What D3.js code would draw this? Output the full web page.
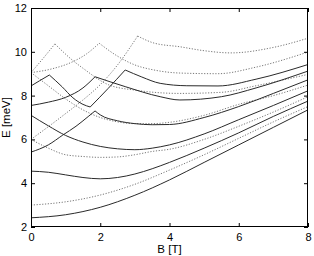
<!DOCTYPE html>
<html><head><meta charset="utf-8">
<script src="https://cdn.jsdelivr.net/npm/d3@7/dist/d3.min.js"></script>
<style>body{margin:0;background:#fff}svg{display:block}</style>
</head><body>
<svg id="c" width="314" height="256"></svg>
<script>
const xTicks = [0, 2, 4, 6, 8];
const yTicks = [2, 4, 6, 8, 10, 12];
const xLabel = "B [T]";
const yLabel = "E [meV]";

// solid levels (each array is one smooth piece; kinks split pieces)
const S1 = [[[0,2.42],[1,2.56],[2,2.9],[3,3.45],[4,4.15],[5,4.95],[6,5.75],[7,6.55],[8,7.35]]];
const S2 = [[[0,4.55],[0.5,4.5],[1,4.38],[1.5,4.26],[2,4.2],[2.5,4.26],[3,4.42],[3.5,4.66],[4,4.95],[5,5.6],[6,6.3],[7,7.05],[8,7.75]]];
const S3 = [[[0,7.1],[0.5,6.62],[1,6.18],[1.5,5.88],[2,5.68],[2.5,5.57],[3,5.53],[3.5,5.6],[4,5.75],[5,6.25],[6,6.9],[7,7.55],[8,8.22]]];
const S4 = [[[0,5.42],[0.5,5.75],[0.92,6.2],[1.3,6.6],[1.65,7.04],[1.85,7.3]],
            [[1.85,7.3],[2,7.12],[2.5,6.85],[3,6.72],[3.5,6.67],[4,6.68],[5,7.0],[6,7.5],[7,8.1],[8,8.72]]];
const S5 = [[[0,8.44],[0.25,8.68],[0.53,8.94]],
            [[0.53,8.94],[0.9,8.4],[1.21,7.9],[1.5,7.6],[1.71,7.48]],
            [[1.71,7.48],[2.23,8.33],[2.72,9.17]],
            [[2.72,9.17],[3.2,8.85],[3.73,8.56],[4.5,8.45],[5.4,8.44],[6.5,8.75],[8,9.42]]];
const S6 = [[[0,7.55],[0.5,7.7],[1,7.92],[1.5,8.35],[1.85,8.86]],
            [[1.85,8.86],[2.72,8.41],[3.73,7.95],[4.3,7.8],[5.5,7.95],[6.5,8.35],[8,9.12]]];
// dotted levels
const D1 = [[[0,3.0],[1,3.15],[2,3.46],[3,3.95],[4,4.6],[5,5.3],[6,6.05],[7,6.8],[8,7.5]]];
const D2 = [[[0,6.0],[0.5,5.6],[1,5.3],[1.5,5.22],[2,5.18],[2.5,5.2],[3,5.3],[3.5,5.45],[4,5.55],[5,6.0],[6,6.6],[7,7.25],[8,7.95]]];
const D3 = [[[0,6.0],[0.5,6.58],[1,7.18],[1.5,7.8],[2,8.5],[2.5,9.4],[3.08,10.72]],
            [[3.08,10.72],[3.55,10.4],[4.3,10.23],[5,10.05],[5.77,9.95],[7,10.2],[8,10.62]]];
const D4 = [[[0,9.05],[0.35,9.7],[0.69,10.36]],
            [[0.69,10.36],[1.21,9.6],[1.5,9.25],[2.23,8.5],[3,8.25],[4.3,8.1],[5.5,8.15],[6.5,8.45],[8,8.97]]];
const D5 = [[[0,9.05],[0.6,9.22],[1.21,9.55],[1.6,9.9],[1.97,10.39]],
            [[1.97,10.39],[2.5,9.8],[3,9.4],[3.55,9.17],[4.3,9.03],[5.4,9.0],[6.5,9.3],[8,9.99]]];
const D6 = [[[0,9.05],[0.5,8.45],[1,7.85],[1.5,7.35],[2,7.0],[2.5,6.8],[3,6.72],[3.5,6.72],[4,6.78],[5,7.1],[6,7.6],[7,8.0],[8,8.48]]];

const solidSeries = [S1, S2, S3, S4, S5, S6];
const dottedSeries = [D1, D2, D3, D4, D5, D6];

const svg = d3.select("#c");
const L = 31, R = 308, T = 8, B = 227;
const x = d3.scaleLinear().domain([0, 8]).range([L, R]);
const y = d3.scaleLinear().domain([2, 12]).range([B, T]);
const font = "'Liberation Sans', Arial, Helvetica, sans-serif";

svg.append("clipPath").attr("id", "clp").append("rect")
  .attr("x", L).attr("y", T).attr("width", R - L).attr("height", B - T);

const line = d3.line().x(d => x(d[0])).y(d => y(d[1])).curve(d3.curveMonotoneX);
const g = svg.append("g").attr("clip-path", "url(#clp)");

dottedSeries.forEach(s => s.forEach(piece => {
  g.append("path").attr("d", line(piece)).attr("fill", "none")
   .attr("stroke", "#777").attr("stroke-width", 1).attr("stroke-dasharray", "1.2,1.6");
}));
solidSeries.forEach(s => s.forEach(piece => {
  g.append("path").attr("d", line(piece)).attr("fill", "none")
   .attr("stroke", "#2a2a2a").attr("stroke-width", 1);
}));

function styleAxis(sel, labels) {
  sel.select(".domain").remove();
  sel.selectAll(".tick line").attr("stroke", "#000");
  sel.selectAll(".tick text").attr("font-family", font).attr("font-size", 11).attr("fill", "#000");
  if (!labels) sel.selectAll(".tick text").remove();
}
svg.append("g").attr("transform", `translate(0,${B})`)
  .call(d3.axisBottom(x).tickValues(xTicks).tickSize(-4).tickPadding(6).tickFormat(d3.format("d")))
  .call(s => styleAxis(s, true));
svg.append("g").attr("transform", `translate(0,${T})`)
  .call(d3.axisTop(x).tickValues(xTicks).tickSize(-4))
  .call(s => styleAxis(s, false));
svg.append("g").attr("transform", `translate(${L},0)`)
  .call(d3.axisLeft(y).tickValues(yTicks).tickSize(-4).tickPadding(4).tickFormat(d3.format("d")))
  .call(s => styleAxis(s, true));
svg.append("g").attr("transform", `translate(${R},0)`)
  .call(d3.axisRight(y).tickValues(yTicks).tickSize(-4))
  .call(s => styleAxis(s, false));

svg.append("rect").attr("x", L + 0.5).attr("y", T + 0.5).attr("width", R - L - 1).attr("height", B - T - 1)
  .attr("fill", "none").attr("stroke", "#000").attr("stroke-width", 1);

svg.append("text").attr("x", (L + R) / 2).attr("y", 253).attr("text-anchor", "middle")
  .attr("font-family", font).attr("font-size", 11.5).text(xLabel);
svg.append("text").attr("transform", `translate(10,${(T + B) / 2}) rotate(-90)`).attr("text-anchor", "middle")
  .attr("font-family", font).attr("font-size", 11.5).text(yLabel);
</script>
</body></html>
